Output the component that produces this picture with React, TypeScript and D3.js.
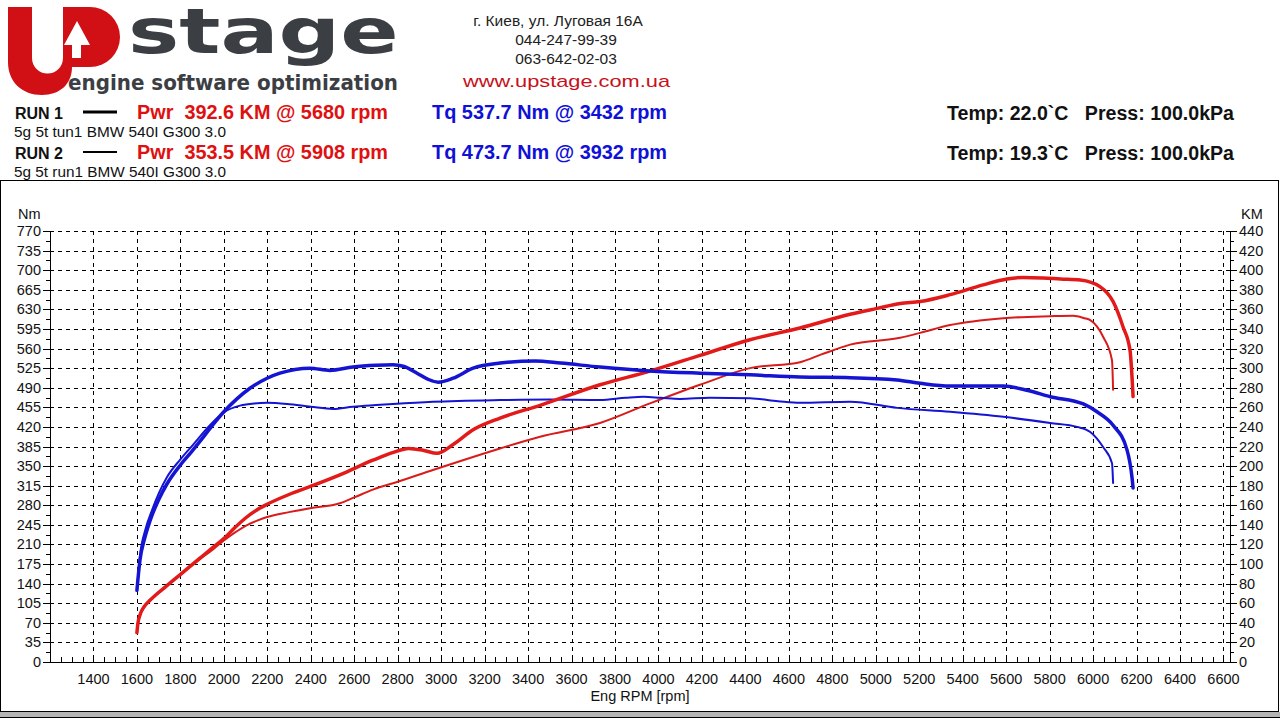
import React from "react";
import * as d3 from "d3";

// Dyno sheet: two runs, torque (Nm, left axis) and power (KM, right axis) vs engine speed.
const rpmTicks = [1400, 1600, 1800, 2000, 2200, 2400, 2600, 2800, 3000, 3200, 3400, 3600, 3800, 4000, 4200, 4400, 4600, 4800, 5000, 5200, 5400, 5600, 5800, 6000, 6200, 6400, 6600];
const nmTicks = [0, 35, 70, 105, 140, 175, 210, 245, 280, 315, 350, 385, 420, 455, 490, 525, 560, 595, 630, 665, 700, 735, 770];
const kmTicks = [0, 20, 40, 60, 80, 100, 120, 140, 160, 180, 200, 220, 240, 260, 280, 300, 320, 340, 360, 380, 400, 420, 440];

// [rpm, value]
const run1Torque: [number, number][] = [
  [1600, 128], [1614, 182], [1635, 220], [1660, 252], [1700, 290], [1738, 318], [1800, 352], [1850, 375],
  [1900, 399], [1950, 424], [2000, 447], [2060, 470], [2120, 489], [2199, 507], [2258, 516], [2396, 525],
  [2488, 521], [2594, 527], [2700, 530], [2778, 531], [2830, 528], [2889, 516], [2940, 505], [2986, 500],
  [3055, 507], [3147, 525], [3271, 534], [3432, 537.7], [3550, 534], [3731, 527], [3961, 520], [4191, 516],
  [4421, 513], [4651, 509], [4882, 508], [5098, 504], [5204, 498], [5342, 493], [5587, 493], [5700, 485],
  [5803, 474], [5955, 461], [6018, 447], [6092, 423], [6156, 379], [6179, 330], [6184, 311],
];
const run2Torque: [number, number][] = [
  [1600, 128], [1614, 190], [1640, 238], [1670, 272], [1738, 330], [1800, 362], [1858, 388], [1936, 423],
  [2000, 446], [2074, 458], [2140, 462], [2199, 463], [2291, 461], [2400, 456], [2502, 452], [2594, 456],
  [2700, 459], [2778, 461], [2962, 465], [3271, 468], [3500, 469], [3731, 468], [3850, 472], [3932, 473.7],
  [4010, 472], [4099, 470], [4237, 472], [4421, 471], [4550, 466], [4651, 463], [4882, 465], [5098, 454],
  [5342, 447], [5587, 438], [5803, 427], [5927, 420], [5987, 411], [6046, 384], [6087, 355], [6092, 320],
];
const run1Power: [number, number][] = [
  [1600, 30], [1605, 40], [1614, 48], [1635, 57], [1660, 63], [1700, 71], [1738, 78], [1798, 89],
  [1890, 106], [1950, 117], [2000, 126], [2050, 137], [2100, 147], [2150, 155], [2199, 161], [2300, 171],
  [2396, 179], [2534, 191], [2686, 206], [2780, 214], [2850, 218], [2920, 216], [2981, 213], [3055, 222],
  [3147, 237], [3271, 249], [3455, 262], [3731, 283], [3961, 297], [4191, 313], [4421, 329], [4651, 341],
  [4882, 355], [5006, 361], [5112, 366], [5204, 368], [5342, 375], [5494, 385], [5604, 391], [5680, 392.6],
  [5770, 392], [5850, 391], [5941, 390], [6033, 383], [6092, 368], [6138, 342], [6170, 318], [6184, 271],
];
const run2Power: [number, number][] = [
  [1600, 30], [1605, 40], [1614, 48], [1660, 63], [1738, 78], [1798, 89], [1890, 105], [1950, 115],
  [2000, 124], [2050, 132], [2100, 139], [2150, 144], [2199, 148], [2300, 153], [2396, 157], [2534, 162],
  [2600, 168], [2686, 176], [2800, 184], [2962, 196], [3100, 206], [3271, 218], [3455, 230], [3731, 244],
  [3961, 264], [4191, 283], [4421, 300], [4651, 306], [4750, 314], [4882, 324], [5112, 331], [5204, 336],
  [5342, 344], [5587, 351], [5803, 353], [5908, 353.5], [5960, 351], [5987, 349], [6046, 332], [6087, 308],
  [6092, 278],
];

const runs = [
  { name: "RUN 1", desc: "5g 5t tun1 BMW 540I G300 3.0", pwr: "Pwr  392.6 KM @ 5680 rpm", tq: "Tq 537.7 Nm @ 3432 rpm", env: "Temp: 22.0`C   Press: 100.0kPa" },
  { name: "RUN 2", desc: "5g 5t run1 BMW 540I G300 3.0", pwr: "Pwr  353.5 KM @ 5908 rpm", tq: "Tq 473.7 Nm @ 3932 rpm", env: "Temp: 19.3`C   Press: 100.0kPa" },
];

const BLUE = "#1414d2";
const RED = "#e21a1a";
const FONT = "'Liberation Sans', Arial, sans-serif";

// keep runs of spaces visible inside svg text
const keepSpaces = (s: string) => s.replace(/ {2,}/g, m => "\u00A0".repeat(m.length));

export default function App() {
  const left = 50, right = 1230, top = 231, bottom = 662;
  const x = d3.scaleLinear().domain([1200, 6630]).range([left, right]);
  const yNm = d3.scaleLinear().domain([0, 770]).range([bottom, top]);
  const yKm = d3.scaleLinear().domain([0, 440]).range([bottom, top]);

  const lineNm = d3.line<[number, number]>().x(d => x(d[0])).y(d => yNm(d[1])).curve(d3.curveMonotoneX);
  const lineKm = d3.line<[number, number]>().x(d => x(d[0])).y(d => yKm(d[1])).curve(d3.curveMonotoneX);

  const minorRpm = d3.range(1250, 6630, 50);
  const minorNm = d3.range(17.5, 770, 35);
  const minorKm = d3.range(10, 440, 20);

  return (
    <svg width={1280} height={720} style={{ position: "absolute", left: 0, top: 0, background: "#fff" }} fontFamily={FONT}>
      {/* logo */}
      <path
        d="M8,7 H32 V58 A15.5,15.5 0 0 0 63,58 V7 H90 A30,30 0 0 1 90,67 H72 C72,84 60,95 42,95 C22,95 8,82 8,62 Z"
        fill="#d01015"
      />
      <path d="M77,21 L90,45 L81,45 L81,58 L72,58 L72,45 L64,45 Z" fill="#fff" />
      <text transform="translate(128,53) scale(1.39,1)" fontFamily="'DejaVu Sans', sans-serif" fontWeight="bold"
        fontSize={62} fill="#3b3e43">stage</text>
      <text x={68} y={90} fontFamily="'DejaVu Sans', sans-serif" fontWeight="bold" fontSize={21} fill="#3b3e43"
        textLength={330} lengthAdjust="spacingAndGlyphs">engine software optimization</text>

      {/* contacts */}
      <g textAnchor="middle" fontSize={15.5} fill="#222">
        <text x={558} y={26}>г. Киев, ул. Луговая 16А</text>
        <text x={566} y={45}>044-247-99-39</text>
        <text x={566} y={64}>063-642-02-03</text>
      </g>
      <text x={463} y={87} fontSize={17} fill="#c8101a" textLength={207} lengthAdjust="spacingAndGlyphs">www.upstage.com.ua</text>

      {/* run legend */}
      {runs.map((r, i) => {
        const yb = 119 + i * 40;
        return (
          <g key={r.name}>
            <text x={15} y={yb} fontSize={16} fontWeight="bold" fill="#111" textLength={48} lengthAdjust="spacingAndGlyphs">{r.name}</text>
            <line x1={83} x2={117} y1={yb - 7} y2={yb - 7} stroke="#000" strokeWidth={i === 0 ? 3 : 2} />
            <text x={137} y={yb} fontSize={20} fontWeight="bold" fill="#e01010" textLength={251} lengthAdjust="spacingAndGlyphs">{keepSpaces(r.pwr)}</text>
            <text x={432} y={yb} fontSize={20} fontWeight="bold" fill="#1010d8" textLength={235} lengthAdjust="spacingAndGlyphs">{r.tq}</text>
            <text x={14} y={yb + 18} fontSize={15} fill="#111" textLength={212} lengthAdjust="spacingAndGlyphs">{r.desc}</text>
            <text x={947} y={yb + 1} fontSize={20} fontWeight="bold" fill="#111" textLength={287} lengthAdjust="spacingAndGlyphs">{keepSpaces(r.env)}</text>
          </g>
        );
      })}

      {/* chart frame */}
      <rect x={0.5} y={180.5} width={1278} height={531} fill="none" stroke="#000" strokeWidth={1} />
      <rect x={0} y={712} width={1280} height={5} fill="#b4b4b4" />
      <line x1={0} x2={1280} y1={717.5} y2={717.5} stroke="#000" />

      {/* grid */}
      <g stroke="#000" strokeWidth={1} strokeDasharray="4,4">
        {rpmTicks.map(t => (
          <line key={"gx" + t} x1={Math.round(x(t)) + 0.5} x2={Math.round(x(t)) + 0.5} y1={top} y2={bottom} />
        ))}
        {nmTicks.filter(t => t > 0).map(t => (
          <line key={"gy" + t} x1={left} x2={right} y1={Math.round(yNm(t)) + 0.5} y2={Math.round(yNm(t)) + 0.5} />
        ))}
      </g>

      {/* axes */}
      <g stroke="#000" strokeWidth={1}>
        <line x1={left + 0.5} x2={left + 0.5} y1={top} y2={bottom} />
        <line x1={right + 0.5} x2={right + 0.5} y1={top} y2={bottom} />
        <line x1={left} x2={right} y1={bottom + 0.5} y2={bottom + 0.5} />
        {minorRpm.map(t => (
          <line key={"mx" + t} x1={Math.round(x(t)) + 0.5} x2={Math.round(x(t)) + 0.5} y1={bottom} y2={bottom - (t % 200 === 0 ? 7 : 5)} />
        ))}
        {nmTicks.map(t => (
          <line key={"tl" + t} x1={left - 7} x2={left} y1={Math.round(yNm(t)) + 0.5} y2={Math.round(yNm(t)) + 0.5} />
        ))}
        {minorNm.map(t => (
          <line key={"ml" + t} x1={left - 4} x2={left} y1={Math.round(yNm(t)) + 0.5} y2={Math.round(yNm(t)) + 0.5} />
        ))}
        {kmTicks.map(t => (
          <line key={"tr" + t} x1={right} x2={right + 7} y1={Math.round(yKm(t)) + 0.5} y2={Math.round(yKm(t)) + 0.5} />
        ))}
        {minorKm.map(t => (
          <line key={"mr" + t} x1={right} x2={right + 4} y1={Math.round(yKm(t)) + 0.5} y2={Math.round(yKm(t)) + 0.5} />
        ))}
      </g>

      {/* tick labels */}
      <g fontSize={14.5} fill="#111">
        {nmTicks.map(t => (
          <text key={"ln" + t} x={41} y={yNm(t)} textAnchor="end" dominantBaseline="central">{t}</text>
        ))}
        {kmTicks.map(t => (
          <text key={"rk" + t} x={1239} y={yKm(t)} dominantBaseline="central">{t}</text>
        ))}
        {rpmTicks.map(t => (
          <text key={"bx" + t} x={x(t)} y={684} textAnchor="middle">{t}</text>
        ))}
        <text x={18} y={219}>Nm</text>
        <text x={1241} y={219}>KM</text>
        <text x={640} y={701} textAnchor="middle">Eng RPM [rpm]</text>
      </g>

      {/* curves */}
      <g fill="none" strokeLinejoin="round" strokeLinecap="round">
        <path d={lineKm(run2Power) ?? ""} stroke="#d81c1c" strokeWidth={2} />
        <path d={lineNm(run2Torque) ?? ""} stroke={BLUE} strokeWidth={2} />
        <path d={lineKm(run1Power) ?? ""} stroke={RED} strokeWidth={3.5} />
        <path d={lineNm(run1Torque) ?? ""} stroke={BLUE} strokeWidth={3.5} />
      </g>
    </svg>
  );
}
